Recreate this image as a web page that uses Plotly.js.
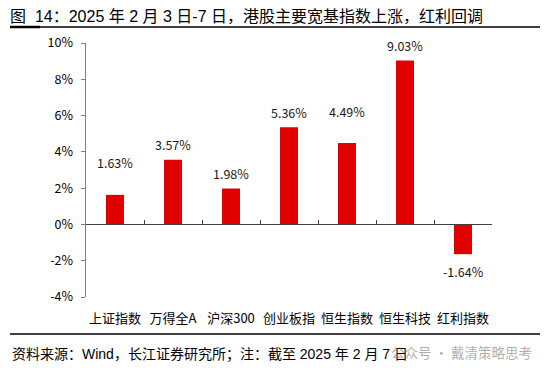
<!DOCTYPE html>
<html>
<head>
<meta charset="utf-8">
<script src="https://cdn.plot.ly/plotly-3.0.1.min.js"></script>
<style>html,body{margin:0;padding:0;background:#fff;}#chart{width:550px;height:373px;}</style>
</head>
<body>
<div id="chart"></div>
<script>
// ---- data ----
var categories = ['上证指数', '万得全A', '沪深300', '创业板指', '恒生指数', '恒生科技', '红利指数'];
var weeklyChange = [1.63, 3.57, 1.98, 5.36, 4.49, 9.03, -1.64];
var valueLabels = ['1.63%', '3.57%', '1.98%', '5.36%', '4.49%', '9.03%', '-1.64%'];
var yTickValues = [-4, -2, 0, 2, 4, 6, 8, 10];
var yTickLabels = ['-4%', '-2%', '0%', '2%', '4%', '6%', '8%', '10%'];
var titleText = '图  14：2025 年 2 月 3 日-7 日，港股主要宽基指数上涨，红利回调';
var sourceText = '资料来源：Wind，长江证券研究所；注：截至 2025 年 2 月 7 日';
var watermarkText = '公众号 · 戴清策略思考';

// ---- style ----
var labelShift = [32, 15, 15, 15, 31, 15, -17];
var W = 550, H = 373;
var M = {l: 86, r: 58, t: 43, b: 76};
var plotW = W - M.l - M.r, plotH = H - M.t - M.b;
function px(x) { return (x - M.l) / plotW; }
function py(y) { return (H - M.b - y) / plotH; }
var FONT = '"Noto Sans CJK SC", "Noto Sans", sans-serif';
var FONT_DOC = '"Liberation Sans", "Noto Sans CJK SC", sans-serif';
var yMin = -4, yMax = 10;
function nb(s) { return s.replace(/ /g, '\u00a0'); }

var trace = {
  type: 'bar',
  x: categories,
  y: weeklyChange,
  marker: {color: '#E00000', line: {width: 0}},
  hoverinfo: 'skip'
};
var dummy = {
  type: 'scatter', x: [0], y: [0], xaxis: 'x2', yaxis: 'y',
  mode: 'markers', marker: {opacity: 0}, hoverinfo: 'skip', showlegend: false
};

var annotations = categories.map(function (c, i) {
  return {
    x: c, y: weeklyChange[i], xref: 'x', yref: 'y',
    text: valueLabels[i], showarrow: false,
    xanchor: 'center', yanchor: 'middle', yshift: labelShift[i],
    font: {family: FONT, size: 12.5, color: '#1a1a1a'}
  };
});
annotations.push({
  xref: 'paper', yref: 'paper', x: px(10), y: py(354),
  xanchor: 'left', yanchor: 'middle', showarrow: false,
  text: nb(sourceText), font: {family: FONT_DOC, size: 14, color: '#000'}
});
annotations.push({
  xref: 'paper', yref: 'paper', x: px(534), y: py(352),
  xanchor: 'right', yanchor: 'middle', showarrow: false,
  text: nb(watermarkText), font: {family: FONT, size: 13.5, color: 'rgba(140,140,140,0.7)'}
});

var layout = {
  width: W, height: H,
  margin: M,
  paper_bgcolor: '#fff', plot_bgcolor: '#fff',
  showlegend: false,
  bargap: 0.69,
  title: {
    text: nb(titleText), x: 10 / W, xanchor: 'left', xref: 'container',
    y: 1 - 16 / H, yanchor: 'middle', yref: 'container',
    font: {family: FONT_DOC, size: 16, color: '#000'}
  },
  xaxis: {
    type: 'category', range: [-0.5, 6.5],
    showline: false, ticks: '', showgrid: false, zeroline: false,
    tickfont: {family: FONT, size: 13, color: '#000'},
    ticklabelstandoff: 12, fixedrange: true
  },
  xaxis2: {
    type: 'linear', overlaying: 'x', anchor: 'free',
    position: (0 - yMin) / (yMax - yMin),
    range: [-0.5, 6.5], tick0: -0.5, dtick: 1,
    showline: true, linecolor: '#404040', linewidth: 1,
    ticks: 'inside', ticklen: 4, tickcolor: '#404040', tickwidth: 1,
    showticklabels: false, showgrid: false, zeroline: false, fixedrange: true
  },
  yaxis: {
    range: [yMin, yMax], tickvals: yTickValues, ticktext: yTickLabels,
    showline: true, linecolor: '#7f7f7f', linewidth: 1.5,
    ticks: 'outside', ticklen: 4, tickcolor: '#7f7f7f', tickwidth: 1,
    showgrid: false, zeroline: false,
    tickfont: {family: FONT, size: 12.5, color: '#000'},
    ticklabelstandoff: 5, fixedrange: true
  },
  shapes: [
    {type: 'line', xref: 'paper', yref: 'paper', x0: px(10), x1: px(540), y0: py(27), y1: py(27),
     line: {color: '#000', width: 1.5}},
    {type: 'line', xref: 'paper', yref: 'paper', x0: px(10), x1: px(40), y0: py(27), y1: py(27),
     line: {color: '#000', width: 2.5}},
    {type: 'line', xref: 'paper', yref: 'paper', x0: px(10), x1: px(540), y0: py(334), y1: py(334),
     line: {color: '#000', width: 1.5}}
  ],
  annotations: annotations
};

Plotly.newPlot('chart', [trace, dummy], layout, {displayModeBar: false, staticPlot: true});
</script>
</body>
</html>
